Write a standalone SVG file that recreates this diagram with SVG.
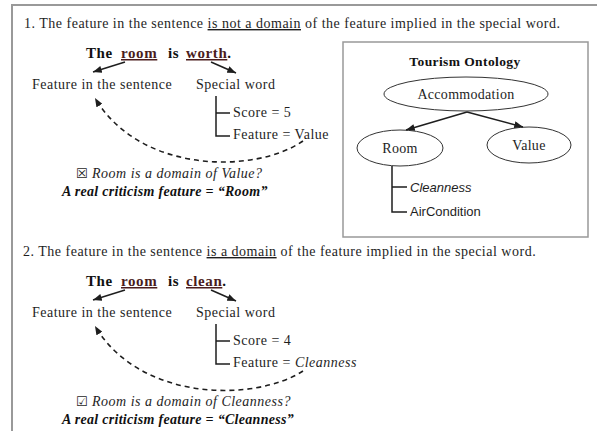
<svg xmlns="http://www.w3.org/2000/svg" width="597" height="431" viewBox="0 0 597 431">
  <defs>
    <style>
      .t { font-family: "Liberation Serif", "Times New Roman", serif; font-size: 14px; letter-spacing: 0.5px; fill: #1e1e1e; }
      .b { font-weight: bold; font-size: 15px; letter-spacing: 0.6px; fill: #111; }
      .i { font-style: italic; }
      .bi { font-weight: bold; font-style: italic; letter-spacing: 0.3px; fill: #111; }
      .u { text-decoration: underline; }
      .hl { fill: #4a1c1c; }
      .s { font-family: "Liberation Sans", Arial, sans-serif; font-size: 13px; fill: #1e1e1e; }
      .box { font-family: "DejaVu Sans", sans-serif; font-size: 13px; font-style: normal; letter-spacing: 0; }
      .ln { stroke: #1e1e1e; stroke-width: 1.5; fill: none; }
      .dash { stroke: #1e1e1e; stroke-width: 1.6; fill: none; stroke-dasharray: 5 4; }
      .ell { fill: #fff; stroke: #333; stroke-width: 1; }
      .frame { stroke: #999; stroke-width: 2; fill: none; }
    </style>
    <marker id="arr" viewBox="0 0 10 8" refX="10" refY="4" markerWidth="9" markerHeight="7" markerUnits="userSpaceOnUse" orient="auto">
      <path d="M0,0 L10,4 L0,8 z" fill="#1e1e1e"/>
    </marker>
  </defs>

  <rect width="597" height="431" fill="#fff"/>

  <!-- page frame: top rule and left rule -->
  <path class="frame" d="M12,431 V5 H597"/>

  <!-- ===== case 1 ===== -->
  <g id="case1">
    <text class="t" x="24" y="28">1. The feature in the sentence <tspan class="u">is not a domain</tspan> of the feature implied in the special word.</text>
    <g id="sentence1">
      <text class="t b" y="58"><tspan x="86">The</tspan><tspan x="121" class="u hl">room</tspan><tspan x="168">is</tspan><tspan x="186" class="u hl">worth</tspan><tspan>.</tspan></text>
    </g>
    <g id="feature1"><text class="t" x="32" y="89">Feature in the sentence</text></g>
    <g id="special1"><text class="t" x="196" y="89">Special word</text></g>
    <g id="score1"><text class="t" x="233" y="117">Score = 5</text></g>
    <g id="implied1"><text class="t" x="233" y="139">Feature = Value</text></g>
    <g id="question1"><text class="t i" y="178"><tspan class="box" x="76">☒</tspan><tspan x="92">Room is a domain of Value?</tspan></text></g>
    <g id="result1"><text class="t bi" x="62" y="196">A real criticism feature = “Room”</text></g>
  </g>

  <!-- ===== case 2 ===== -->
  <g id="case2" transform="translate(0,228)">
    <text class="t" x="23" y="28">2. The feature in the sentence <tspan class="u" style="text-decoration-color:#777">is a domain</tspan> of the feature implied in the special word.</text>
    <g id="sentence2">
      <text class="t b" y="58"><tspan x="86">The</tspan><tspan x="121" class="u hl">room</tspan><tspan x="168">is</tspan><tspan x="186" class="u hl">clean</tspan><tspan>.</tspan></text>
    </g>
    <g id="feature2"><text class="t" x="32" y="89">Feature in the sentence</text></g>
    <g id="special2"><text class="t" x="196" y="89">Special word</text></g>
    <g id="score2"><text class="t" x="233" y="117">Score = 4</text></g>
    <g id="implied2"><text class="t" x="233" y="139">Feature = <tspan class="i">Cleanness</tspan></text></g>
    <g id="question2"><text class="t i" y="178"><tspan class="box" x="76">☑</tspan><tspan x="92">Room is a domain of Cleanness?</tspan></text></g>
    <g id="result2"><text class="t bi" x="62" y="196">A real criticism feature = “Cleanness”</text></g>
  </g>

  <!-- ===== ontology panel ===== -->
  <g id="ontology">
    <rect x="343" y="42" width="245" height="195" fill="none" stroke="#999" stroke-width="1.5"/>
    <text class="t b" x="465" y="66" text-anchor="middle" style="font-size:13.5px;letter-spacing:0.4px">Tourism Ontology</text>
  </g>
  <g id="accommodation">
    <ellipse class="ell" cx="466" cy="94" rx="82" ry="17"/>
    <text class="t" x="466" y="99" text-anchor="middle" style="letter-spacing:0.3px">Accommodation</text>
  </g>
  <g id="room">
    <ellipse class="ell" cx="400" cy="148" rx="43" ry="18"/>
    <text class="t" x="400" y="153" text-anchor="middle" style="letter-spacing:0.3px">Room</text>
  </g>
  <g id="value">
    <ellipse class="ell" cx="529" cy="145" rx="42" ry="18"/>
    <text class="t" x="529" y="150" text-anchor="middle" style="letter-spacing:0.3px">Value</text>
  </g>
  <g id="cleanness"><text class="s i" x="410" y="192">Cleanness</text></g>
  <g id="aircondition"><text class="s" x="410" y="216">AirCondition</text></g>

  <!-- ===== connectors ===== -->
  <g id="connectors">
    <!-- case 1 -->
    <line class="ln" x1="125" y1="62" x2="93" y2="72" marker-end="url(#arr)"/>
    <line class="ln" x1="211" y1="62" x2="236" y2="73" marker-end="url(#arr)"/>
    <path class="ln" d="M216,96 V136 H230 M216,113 H230"/>
    <path class="dash" d="M303,141 C255,174 140,174 95,98" marker-end="url(#arr)"/>
    <!-- case 2 -->
    <line class="ln" x1="125" y1="290" x2="93" y2="300" marker-end="url(#arr)"/>
    <line class="ln" x1="211" y1="290" x2="236" y2="301" marker-end="url(#arr)"/>
    <path class="ln" d="M216,324 V364 H230 M216,341 H230"/>
    <path class="dash" d="M303,371 C255,402 140,402 95,326" marker-end="url(#arr)"/>
    <!-- ontology -->
    <line class="ln" x1="467" y1="112" x2="406" y2="130" stroke-width="1.2" marker-end="url(#arr)"/>
    <line class="ln" x1="467" y1="112" x2="523" y2="127" stroke-width="1.2" marker-end="url(#arr)"/>
    <path class="ln" d="M392,166 V212 H407 M392,187 H407"/>
  </g>
</svg>
